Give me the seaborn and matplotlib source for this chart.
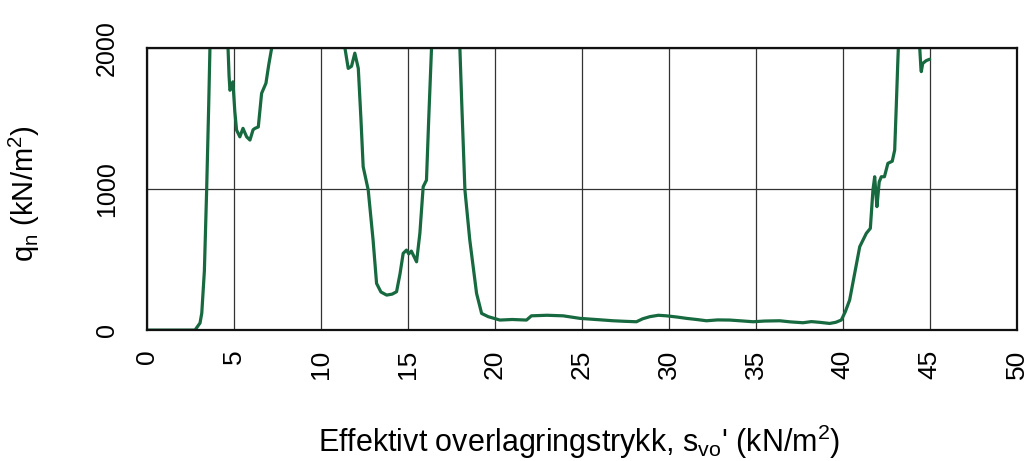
import numpy as np
import pandas as pd
import matplotlib
matplotlib.use("Agg")
import matplotlib.pyplot as plt
from matplotlib.ticker import MultipleLocator
import seaborn as sns

# --- data; segments leave the 0-2000 window at the top ---
seg1_x = [0, 1, 2, 2.76, 3.05, 3.15, 3.3, 3.43, 3.55, 3.62]
seg1_y = [0, 0, 0, 0, 50, 120, 420, 990, 1600, 2000]

seg2_x = [4.66, 4.72, 4.77, 4.85, 4.94, 5.05, 5.15, 5.34, 5.52, 5.73, 5.92, 6.1, 6.21, 6.4, 6.59, 6.84, 7.0, 7.17]
seg2_y = [2000, 1800, 1700, 1720, 1760, 1550, 1418, 1370, 1430, 1370, 1347, 1420, 1430, 1440, 1678, 1750, 1880, 2000]

seg3_x = [11.38, 11.57, 11.76, 11.95, 12.15, 12.3, 12.43, 12.72, 13.0, 13.2, 13.45, 13.78, 14.1, 14.35, 14.55,
          14.73, 14.92, 15.05, 15.2, 15.5, 15.69, 15.88, 16.07, 16.2, 16.36]
seg3_y = [2000, 1855, 1870, 1963, 1855, 1500, 1158, 993, 638, 331, 270, 248, 255, 272, 400,
          544, 567, 540, 560, 484, 686, 1016, 1063, 1500, 2000]

seg4_x = [17.99, 18.1, 18.28, 18.56, 18.95, 19.24, 19.62, 20.29, 21.0, 21.82, 22.0, 22.1, 23.0, 23.93, 24.89,
          25.8, 26.8, 27.5, 28.14, 28.5, 28.91, 29.4, 29.87, 30.5, 31.02, 31.6, 32.17, 32.8, 33.5, 34.2,
          34.85, 35.5, 36.38, 37.0, 37.72, 38.2, 38.67, 39.25, 39.6, 39.92, 40.15, 40.4, 40.69, 40.98,
          41.36, 41.59, 41.74, 41.84, 41.92, 41.97, 42.1, 42.22, 42.4, 42.6, 42.85, 42.99, 43.08, 43.18, 43.2]
seg4_y = [2000, 1600, 993, 638, 260, 118, 95, 71, 75, 71, 90, 101, 105, 101, 83,
          75, 66, 62, 59, 80, 95, 105, 101, 92, 83, 75, 66, 72, 71, 65,
          59, 64, 66, 58, 52, 60, 55, 47, 55, 71, 130, 213, 402, 591,
          686, 721, 993, 1087, 950, 875, 1050, 1087, 1087, 1182, 1197, 1276, 1583, 1938, 2000]

seg5_x = [44.43, 44.5, 44.52, 44.6, 44.8, 45.0]
seg5_y = [2000, 1850, 1832, 1890, 1910, 1920]

x_ticks = [0, 5, 10, 15, 20, 25, 30, 35, 40, 45, 50]
y_ticks = [0, 1000, 2000]

segments = [(seg1_x, seg1_y), (seg2_x, seg2_y), (seg3_x, seg3_y), (seg4_x, seg4_y), (seg5_x, seg5_y)]
df = pd.concat([pd.DataFrame({"x": sx, "y": sy, "seg": i}) for i, (sx, sy) in enumerate(segments)],
               ignore_index=True)

sns.set_theme(style="white")
plt.rcParams["font.family"] = ["Liberation Sans", "DejaVu Sans"]
plt.rcParams["mathtext.default"] = "regular"
plt.rcParams["text.color"] = "black"
plt.rcParams["axes.labelcolor"] = "black"
plt.rcParams["xtick.color"] = "black"
plt.rcParams["ytick.color"] = "black"

fig = plt.figure(figsize=(10.30, 4.61), dpi=100)
ax = fig.add_axes([0.1427, 0.284, 0.8443, 0.612])

sns.lineplot(data=df, x="x", y="y", units="seg", estimator=None, sort=False,
             color="#17693f", linewidth=2.3, ax=ax, legend=False)

ax.set_xlim(0, 50)
ax.set_ylim(0, 2000)
ax.set_xticks(x_ticks)
ax.set_yticks(y_ticks)
ax.xaxis.set_minor_locator(MultipleLocator(1))
ax.yaxis.set_minor_locator(MultipleLocator(200))
ax.set_xticklabels([str(t) for t in x_ticks], rotation=90, fontsize=19)
ax.set_yticklabels([str(t) for t in y_ticks], rotation=90, va="center", fontsize=18)
ax.tick_params(axis="x", which="both", direction="in", length=4, width=1, color="#333333", pad=14)
ax.tick_params(axis="y", which="both", direction="out", length=6, width=1, color="#555555", pad=14)
ax.tick_params(axis="x", which="major", length=0)

ax.grid(True, which="major", color="#333333", linewidth=0.9)
for s in ax.spines.values():
    s.set_visible(True)
    s.set_color("#111111")
    s.set_linewidth(1.6)

ax.set_xlabel("Effektivt overlagringstrykk, s$_{vo}$' (kN/m$^2$)", fontsize=22)
ax.set_ylabel("q$_n$ (kN/m$^2$)", fontsize=21)
ax.xaxis.set_label_coords(0.497, -0.33)
ax.yaxis.set_label_coords(-0.121, 0.482)

fig.savefig("out.png", dpi=100, facecolor="white")
